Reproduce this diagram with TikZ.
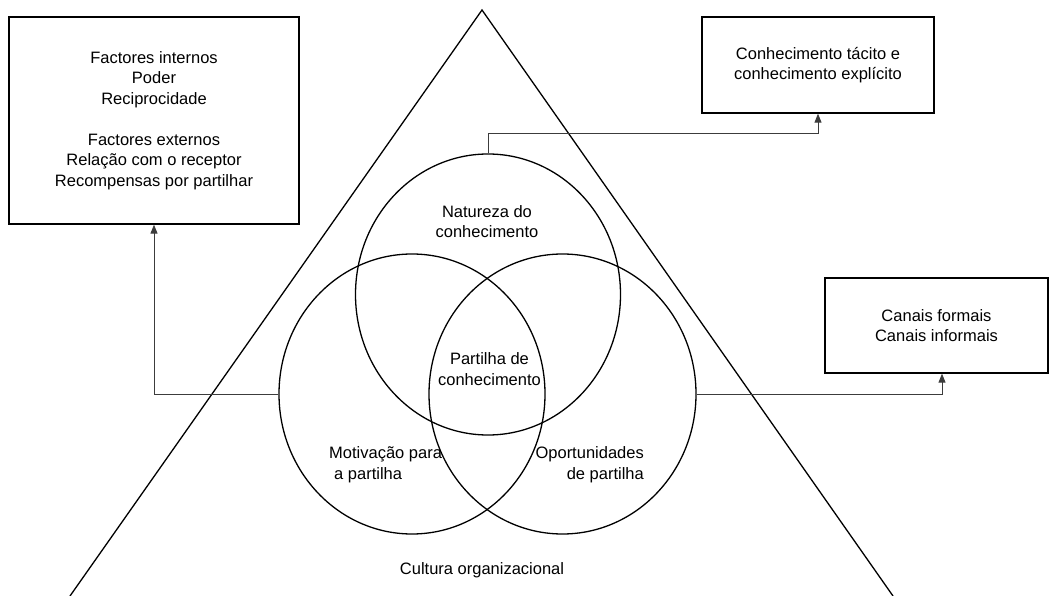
\documentclass[tikz,border=0pt]{standalone}
\usepackage{fontspec}
\setmainfont{Liberation Sans}
\usepackage{tikz}
\usetikzlibrary{calc,arrows.meta,shapes.geometric}
\definecolor{ink}{HTML}{000000}
\definecolor{wire}{HTML}{3C3C3C}
\tikzset{
  box/.style={draw=ink, line width=1.3pt, rectangle, inner sep=0pt, align=center, font=\fontsize{16.5}{20.5}\selectfont},
  venn/.style={draw=ink, line width=1.3pt, ellipse, inner sep=0pt, minimum width=265pt, minimum height=281pt},
  link/.style={draw=wire, line width=0.9pt, -{Triangle[length=9pt,width=7pt]}},
  lab/.style={text=ink, font=\fontsize{16.5}{20.5}\selectfont, inner sep=0pt},
}
\begin{document}
\begin{tikzpicture}[x=1pt,y=-1pt]
  \useasboundingbox (0,0) rectangle (1049,596);
  % triangle of the culture
  \coordinate (apex) at (482,10);
  \coordinate (baseL) at (70,596);
  \coordinate (baseR) at (893,596);
  \draw[draw=ink, line width=1.3pt] (baseL) -- (apex) -- (baseR);
  \node[lab] (cult) at (482,570) {Cultura organizacional};

  % the three circles
  \node[venn] (nat) at (488,294.5) {};
  \node[venn, minimum width=266pt, minimum height=280pt] (mot) at (412,394) {};
  \node[venn, minimum width=267pt, minimum height=280pt] (opo) at (562.5,394) {};

  \node[lab, align=center] (natl) at (487,221.5) {Natureza do\\conhecimento};
  \node[lab, align=center] (part) at (489.5,369) {Partilha de\\conhecimento};
  \node[lab, align=left, anchor=west] (motl) at (329,464.5) {Motivação para\\\hspace*{5pt}a partilha};
  \node[lab, align=right, anchor=east] (opol) at (644,464.5) {Oportunidades\\de partilha};

  % boxes
  \node[box, minimum width=290pt, minimum height=207pt] (fact) at (154,120.5)
    {Factores internos\\Poder\\Reciprocidade\\[20.5pt]Factores externos\\Relação com o receptor\\Recompensas por partilhar};
  \node[box, minimum width=232pt, minimum height=96pt] (tacit) at (818,65)
    {Conhecimento tácito e\\conhecimento explícito};
  \node[box, minimum width=223pt, minimum height=95pt] (canais) at (936.5,325.5)
    {Canais formais\\Canais informais};

  % links
  \draw[link] (nat.north) -- ++(0,-20) -| (tacit.south);
  \draw[link] (mot.west) -| (fact.south);
  \draw[link] (opo.east) -| ([xshift=5.5pt]canais.south);
\end{tikzpicture}
\end{document}
